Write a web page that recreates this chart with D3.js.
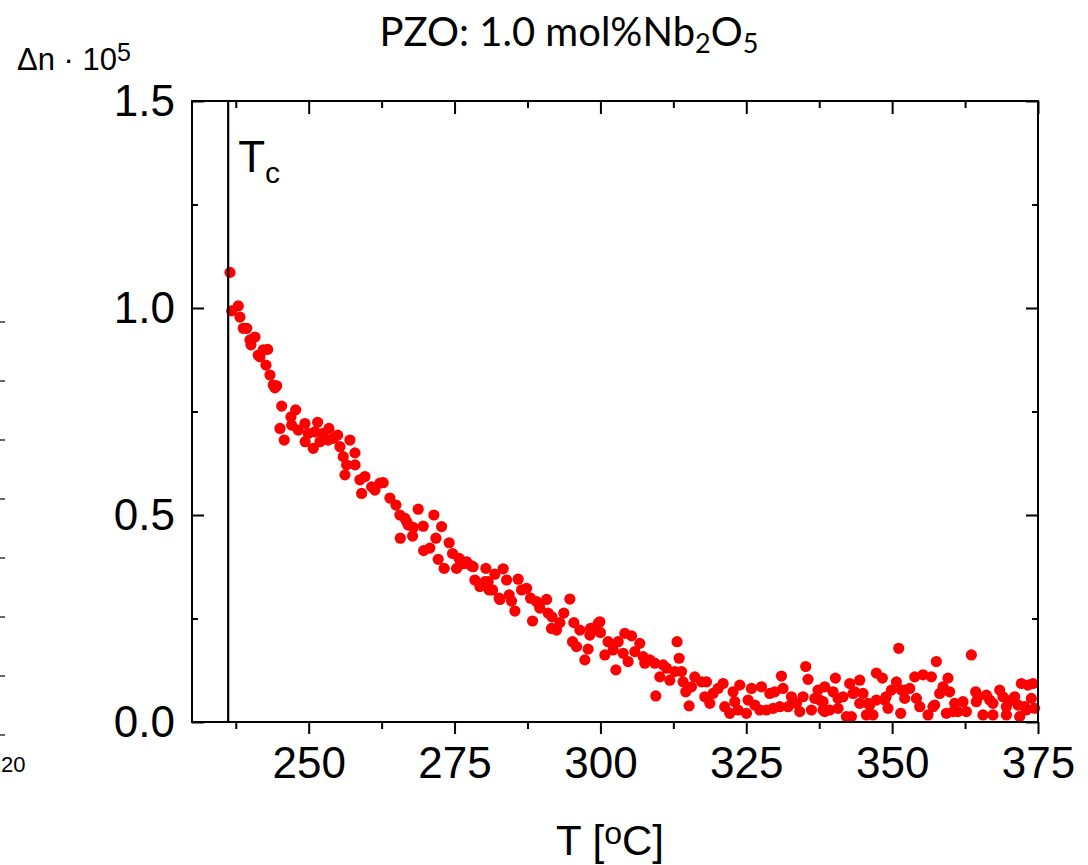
<!DOCTYPE html>
<html><head><meta charset="utf-8">
<script src="https://cdn.jsdelivr.net/npm/d3@7"></script>
<style>body{margin:0;background:#fff}svg{display:block}</style>
</head><body><svg id="c" width="1088" height="865"></svg>
<script>
// ---- data (T in °C, Δn·10^5) ----
const temperature = [
236.51,236.80,237.93,238.22,238.79,239.37,239.94,240.11,240.79,241.36,241.65,242.22,242.68,242.97,243.36,243.93,244.22,244.51,
245.08,245.37,245.81,246.96,247.08,247.77,248.21,249.36,249.40,249.92,250.78,251.07,251.53,251.93,252.49,253.35,253.47,254.21,
254.96,255.36,255.92,256.21,256.50,257.07,257.93,257.95,258.78,259.07,259.64,260.79,261.35,262.21,262.77,263.92,264.95,
265.63,265.70,266.49,266.80,267.06,267.81,267.92,268.77,269.63,269.70,270.77,271.46,271.80,272.20,272.78,273.22,274.08,274.66,
275.35,275.79,276.20,276.77,277.06,277.92,278.19,278.48,279.34,280.20,280.37,280.76,280.93,281.52,281.91,282.65,282.77,283.33,
283.92,284.36,284.77,285.34,285.90,286.48,287.34,288.03,288.37,289.05,289.51,289.62,290.77,291.04,291.62,291.70,292.48,293.05,
293.73,294.76,295.22,295.45,295.91,296.47,297.33,297.89,298.19,298.30,299.04,299.61,
299.90,300.00,300.76,301.32,302.18,302.65,303.04,303.90,304.18,304.75,305.33,305.90,306.75,307.32,307.61,308.47,309.32,309.49,
310.18,310.75,311.33,311.89,312.75,313.14,313.49,313.90,314.17,314.63,315.20,315.61,316.17,
317.32,318.18,317.89,318.75,319.31,320.17,321.03,321.31,322.17,322.74,323.03,323.89,323.59,325.03,325.31,325.89,326.46,327.31,
327.60,328.46,329.03,329.88,329.59,331.03,331.30,330.74,332.16,332.74,333.60,334.16,334.73,335.19,335.58,336.17,336.74,337.30,
337.59,338.45,338.16,339.30,339.87,340.28,340.73,341.58,342.16,342.73,343.02,343.58,344.44,345.01,345.59,345.87,346.72,347.30,
347.30,348.33,348.73,349.29,349.87,350.73,351.13,351.47,351.59,352.15,353.01,353.87,354.16,354.73,355.29,356.15,356.73,357.00,
357.58,358.15,358.72,359.30,359.57,359.86,360.72,361.28,362.14,362.72,363.58,364.32,364.71,365.57,366.15,366.72,367.28,368.43,
369.00,369.58,370.44,371.00,371.86,372.15,372.71,373.28,374.14,373.86,374.42,
338.16,338.45,340.73,343.30,344.44,346.15,348.96,352.15,357.29,360.44,364.43,367.28,369.58,371.57,373.00
];
const deltaN = [
1.086,0.993,1.005,0.978,0.951,0.951,0.923,0.911,0.930,0.886,0.882,0.899,0.862,0.900,0.838,0.814,0.807,0.812,
0.709,0.763,0.681,0.737,0.717,0.754,0.705,0.721,0.677,0.697,0.661,0.701,0.724,0.677,0.697,0.681,0.709,0.685,
0.693,0.665,0.641,0.597,0.621,0.681,0.650,0.621,0.585,0.552,0.593,0.568,0.560,0.577,0.578,0.541,0.524,
0.500,0.444,0.492,0.484,0.476,0.449,0.470,0.514,0.473,0.414,0.420,0.500,0.444,0.393,0.472,0.371,0.433,0.407,
0.371,0.395,0.382,0.383,0.387,0.377,0.375,0.343,0.327,0.339,0.371,0.339,0.319,0.319,0.357,0.299,0.296,0.370,
0.343,0.307,0.292,0.268,0.345,0.319,0.323,0.299,0.244,0.291,0.283,0.275,0.296,0.263,0.226,0.254,0.222,0.240,
0.263,0.297,0.194,0.240,0.182,0.222,0.150,0.176,0.210,0.226,0.222,0.238,
0.242,0.216,0.162,0.194,0.174,0.126,0.194,0.166,0.214,0.146,0.208,0.170,0.190,0.158,0.142,0.150,0.142,0.063,
0.109,0.138,0.130,0.101,0.122,0.194,0.154,0.122,0.097,0.073,0.039,0.085,0.109,
0.097,0.097,0.061,0.045,0.069,0.081,0.093,0.037,0.021,0.073,0.049,0.089,0.029,0.021,0.053,0.081,0.041,0.029,
0.085,0.029,0.069,0.073,0.033,0.111,0.081,0.037,0.037,0.061,0.045,0.025,0.061,0.134,0.103,0.029,0.057,0.077,
0.053,0.085,0.029,0.029,0.073,0.106,0.057,0.061,0.013,0.093,0.013,0.073,0.101,0.069,0.017,0.045,0.017,0.118,
0.053,0.106,0.053,0.033,0.077,0.097,0.178,0.021,0.077,0.057,0.081,0.109,0.057,0.037,0.114,0.017,0.109,0.037,
0.146,0.069,0.085,0.021,0.106,0.073,0.045,0.025,0.049,0.025,0.162,0.073,0.061,0.017,0.065,0.053,0.017,0.077,
0.061,0.037,0.053,0.061,0.013,0.093,0.037,0.089,0.093,0.057,0.033,
0.049,0.025,0.033,0.069,0.045,0.041,0.061,0.077,0.041,0.025,0.049,0.045,0.017,0.041,0.029
];
const xMajorTicks = [250, 275, 300, 325, 350, 375];
const xMinorTicks = [237.5, 262.5, 287.5, 312.5, 337.5, 362.5];
const yMajorTicks = [0, 0.5, 1.0, 1.5];
const yMinorTicks = [0.25, 0.75, 1.25];
const curieT = 236.2;
const xDomain = [230, 375];
const yDomain = [0, 1.5];

// ---- layout ----
const L = 192, R = 1038, T = 101, B = 722;
const svg = d3.select("#c");
const x = d3.scaleLinear().domain(xDomain).range([L, R]);
const y = d3.scaleLinear().domain(yDomain).range([B, T]);
const sans = "'Liberation Sans', Arial, sans-serif";

// points
svg.append("g").selectAll("circle")
  .data(d3.zip(temperature, deltaN))
  .join("circle")
  .attr("cx", d => x(d[0])).attr("cy", d => y(d[1]))
  .attr("r", 5.6).attr("fill", "#ff0000");

// Tc line
svg.append("line")
  .attr("x1", x(curieT)).attr("x2", x(curieT))
  .attr("y1", T).attr("y2", B)
  .attr("stroke", "#000").attr("stroke-width", 2.2);

function styleAxis(g) {
  g.select(".domain").remove();
  g.selectAll(".tick line").attr("stroke", "#000").attr("stroke-width", 2);
  g.selectAll(".tick text").attr("fill", "#000").style("font-family", sans).style("font-size", "44px");
}
// bottom
svg.append("g").attr("transform", `translate(0,${B})`)
  .call(d3.axisBottom(x).tickValues(xMajorTicks).tickSize(12).tickPadding(13).tickFormat(d3.format("d")))
  .call(styleAxis);
svg.append("g").attr("transform", `translate(0,${B})`)
  .call(d3.axisBottom(x).tickValues(xMinorTicks).tickSize(7).tickFormat(""))
  .call(styleAxis);
// top (inward)
svg.append("g").attr("transform", `translate(0,${T})`)
  .call(d3.axisTop(x).tickValues(xMajorTicks).tickSize(-13).tickFormat(""))
  .call(styleAxis);
svg.append("g").attr("transform", `translate(0,${T})`)
  .call(d3.axisTop(x).tickValues(xMinorTicks).tickSize(-7).tickFormat(""))
  .call(styleAxis);
// left (inward)
svg.append("g").attr("transform", `translate(${L},0)`)
  .call(d3.axisLeft(y).tickValues(yMajorTicks).tickSize(-12).tickPadding(17).tickFormat(d3.format(".1f")))
  .call(styleAxis);
svg.append("g").attr("transform", `translate(${L},0)`)
  .call(d3.axisLeft(y).tickValues(yMinorTicks).tickSize(-6).tickFormat(""))
  .call(styleAxis);
// right (inward)
svg.append("g").attr("transform", `translate(${R},0)`)
  .call(d3.axisRight(y).tickValues(yMajorTicks).tickSize(-12).tickFormat(""))
  .call(styleAxis);
svg.append("g").attr("transform", `translate(${R},0)`)
  .call(d3.axisRight(y).tickValues(yMinorTicks).tickSize(-6).tickFormat(""))
  .call(styleAxis);

// frame
svg.append("rect").attr("x", L).attr("y", T).attr("width", R - L).attr("height", B - T)
  .attr("fill", "none").attr("stroke", "#000").attr("stroke-width", 2);

// Tc label
const tc = svg.append("text").attr("x", x(curieT) + 10).attr("y", 172)
  .style("font-family", sans).style("font-size", "44px").attr("fill", "#000");
tc.append("tspan").text("T");
tc.append("tspan").attr("dy", 11).style("font-size", "30px").text("c");

// title
const title = svg.append("text").attr("x", 569).attr("y", 46).attr("text-anchor", "middle")
  .style("font-family", "Lato, 'Open Sans', sans-serif").style("font-size", "40px").attr("fill", "#000");
title.append("tspan").text("PZO: 1.0 mol%Nb");
title.append("tspan").attr("dy", 7).style("font-size", "27px").text("2");
title.append("tspan").attr("dy", -7).text("O");
title.append("tspan").attr("dy", 7).style("font-size", "27px").text("5");

// y label
const yl = svg.append("text").attr("x", 17).attr("y", 70)
  .style("font-family", sans).style("font-size", "31px").attr("fill", "#000");
yl.append("tspan").text("\u0394n \u00B7 10");
yl.append("tspan").attr("dy", -9).style("font-size", "25px").text("5");

// x label
const xl = svg.append("text").attr("x", 556).attr("y", 855)
  .style("font-family", sans).style("font-size", "42px").attr("fill", "#000");
xl.append("tspan").text("T [");
xl.append("tspan").attr("dy", -11).style("font-size", "32px").text("o");
xl.append("tspan").attr("dy", 11).text("C]");

// neighbouring panel fragment at the left edge
const neighbourY = d3.scaleLinear().domain([0, 7]).range([735, 322]);
svg.append("g").selectAll("line").data(d3.range(0, 8)).join("line")
  .attr("x1", 0).attr("x2", 5).attr("y1", d => neighbourY(d)).attr("y2", d => neighbourY(d))
  .attr("stroke", "#333").attr("stroke-width", 1.5);
svg.append("text").attr("x", 1).attr("y", 772)
  .style("font-family", sans).style("font-size", "22px").attr("fill", "#000").text("20");
</script></body></html>
